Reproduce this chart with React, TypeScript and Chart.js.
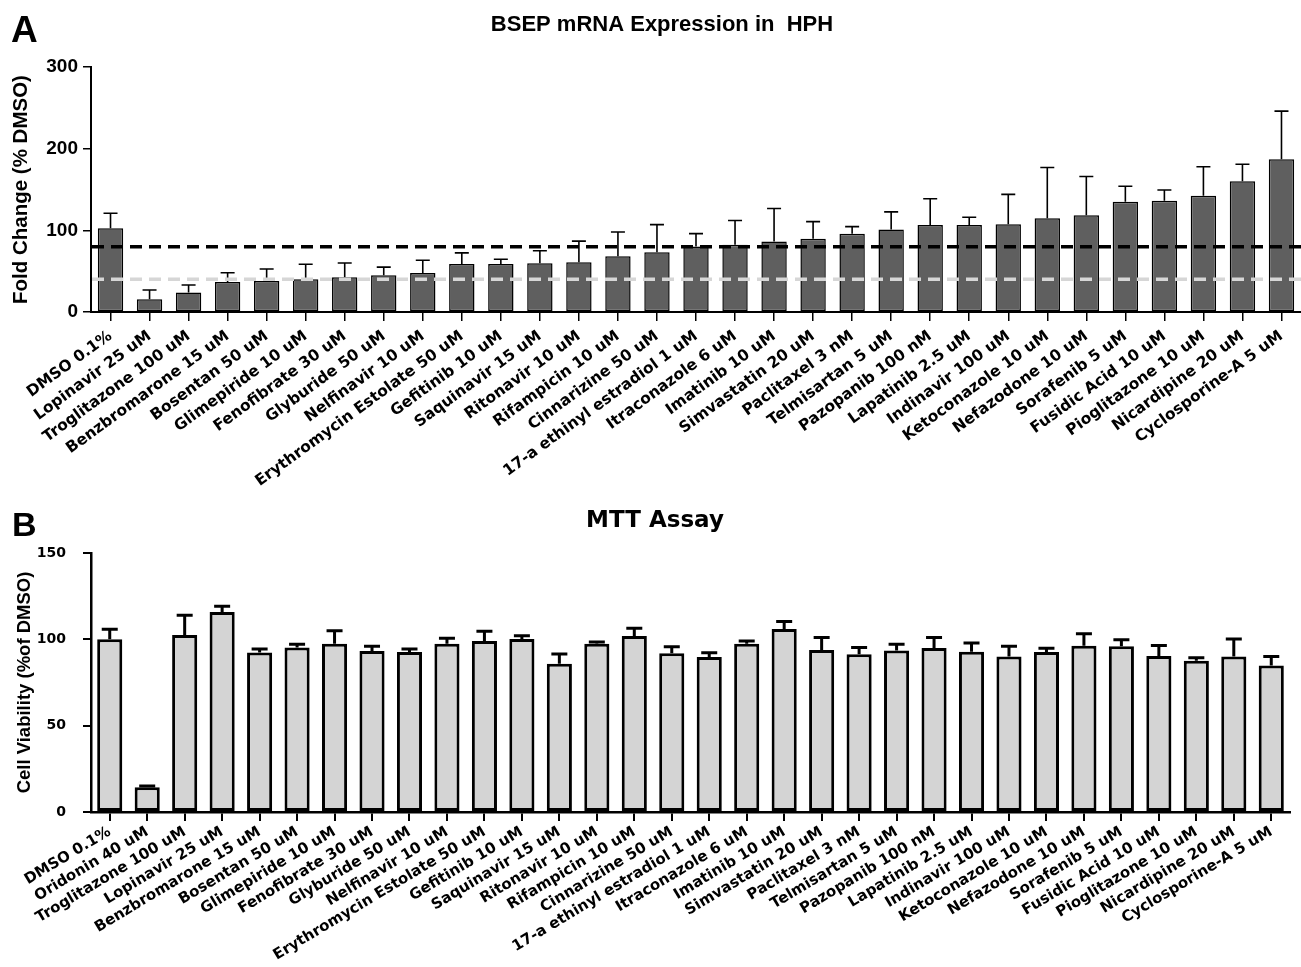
import React, { useEffect, useRef } from "react";
import { Chart, registerables } from "chart.js";

Chart.register(...registerables);

// ---------- Panel A data ----------
const categoriesA = [
  "DMSO 0.1%", "Lopinavir 25 uM", "Troglitazone 100 uM", "Benzbromarone 15 uM", "Bosentan 50 uM",
  "Glimepiride 10 uM", "Fenofibrate 30 uM", "Glyburide 50 uM", "Nelfinavir 10 uM", "Erythromycin Estolate 50 uM",
  "Gefitinib 10 uM", "Saquinavir 15 uM", "Ritonavir 10 uM", "Rifampicin 10 uM", "Cinnarizine 50 uM",
  "17-a ethinyl estradiol 1 uM", "Itraconazole 6 uM", "Imatinib 10 uM", "Simvastatin 20 uM", "Paclitaxel 3 nM",
  "Telmisartan 5 uM", "Pazopanib 100 nM", "Lapatinib 2.5 uM", "Indinavir 100 uM", "Ketoconazole 10 uM",
  "Nefazodone 10 uM", "Sorafenib 5 uM", "Fusidic Acid 10 uM", "Pioglitazone 10 uM", "Nicardipine 20 uM",
  "Cyclosporine-A 5 uM",
];
const foldChange = [
  102.5, 15.6, 24, 36.6, 38, 40, 42.4, 45, 47.7, 58.8,
  58.8, 59.7, 61, 68.3, 73.3, 80.2, 82.3, 86.4, 89.7, 95.9,
  101, 106.6, 106.6, 107.4, 114.8, 118.5, 135, 136.2, 142.4, 160,
  187,
];
const foldChangeSem = [
  18.5, 11.4, 9, 11.4, 14.7, 18.4, 17.6, 10, 15.7, 13.6,
  5.8, 15.3, 25.8, 29.7, 33.7, 15.8, 29.7, 40.3, 21, 8.6,
  21.6, 32.1, 9.4, 36.6, 62.2, 47.5, 19, 13.2, 35.4, 21,
  59,
];
const thresholdsA = [80, 40];
const thresholdColorsA = ["#000000", "#d6d6d6"];
const yRangeA = [0, 300];
const yStepA = 100;

// ---------- Panel B data ----------
const categoriesB = [
  "DMSO 0.1%", "Oridonin 40 uM", "Troglitazone 100 uM", "Lopinavir 25 uM", "Benzbromarone 15 uM",
  "Bosentan 50 uM", "Glimepiride 10 uM", "Fenofibrate 30 uM", "Glyburide 50 uM", "Nelfinavir 10 uM",
  "Erythromycin Estolate 50 uM", "Gefitinib 10 uM", "Saquinavir 15 uM", "Ritonavir 10 uM", "Rifampicin 10 uM",
  "Cinnarizine 50 uM", "17-a ethinyl estradiol 1 uM", "Itraconazole 6 uM", "Imatinib 10 uM", "Simvastatin 20 uM",
  "Paclitaxel 3 nM", "Telmisartan 5 uM", "Pazopanib 100 nM", "Lapatinib 2.5 uM", "Indinavir 100 uM",
  "Ketoconazole 10 uM", "Nefazodone 10 uM", "Sorafenib 5 uM", "Fusidic Acid 10 uM", "Pioglitazone 10 uM",
  "Nicardipine 20 uM", "Cyclosporine-A 5 uM",
];
const viability = [
  100, 14.3, 102.5, 115.9, 92.4, 95.2, 97.5, 93.2, 92.6, 97.5,
  99, 100.2, 85.9, 97.5, 102, 92, 89.7, 97.5, 106, 93.8,
  91.3, 93.6, 95, 92.8, 90.1, 92.6, 96.3, 96, 90.3, 87.6,
  90, 84.9,
];
const viabilitySem = [
  5.8, 0.8, 11.5, 3.3, 2, 1.9, 7.5, 2.8, 1.8, 3.1,
  5.7, 1.9, 5.6, 0.9, 4.4, 3.7, 2.5, 1.5, 4.3, 7.2,
  4, 3.5, 6, 5.1, 5.9, 2.2, 7, 3.8, 6.2, 1.7,
  10.2, 5.2,
];
const yRangeB = [0, 150];
const yStepB = 50;

const SANS = "'Liberation Sans', Arial, sans-serif";
const NARROW = "'Liberation Sans Narrow', 'Liberation Sans', Arial, sans-serif";
const WIDE = "'DejaVu Sans', sans-serif";

function errorBars(errs: number[], lineWidth: number, capWidth: number) {
  return {
    id: "errorBars",
    afterDatasetsDraw(chart: any) {
      const { ctx } = chart;
      const meta = chart.getDatasetMeta(0);
      const y = chart.scales.y;
      const vals = chart.data.datasets[0].data as number[];
      ctx.save();
      ctx.strokeStyle = "#000";
      ctx.lineWidth = lineWidth;
      meta.data.forEach((bar: any, i: number) => {
        const base = y.getPixelForValue(vals[i]);
        const top = y.getPixelForValue(vals[i] + errs[i]);
        ctx.beginPath();
        ctx.moveTo(bar.x, base);
        ctx.lineTo(bar.x, top);
        ctx.moveTo(bar.x - capWidth / 2, top);
        ctx.lineTo(bar.x + capWidth / 2, top);
        ctx.stroke();
      });
      ctx.restore();
    },
  };
}

function thresholdLines(values: number[], colors: string[]) {
  return {
    id: "thresholds",
    afterDatasetsDraw(chart: any) {
      const { ctx, chartArea } = chart;
      const y = chart.scales.y;
      ctx.save();
      ctx.lineWidth = 3.5;
      ctx.setLineDash([12, 7]);
      values.forEach((v, i) => {
        const py = y.getPixelForValue(v);
        ctx.strokeStyle = colors[i];
        ctx.beginPath();
        ctx.moveTo(chartArea.left + 1, py);
        ctx.lineTo(chartArea.right, py);
        ctx.stroke();
      });
      ctx.restore();
    },
  };
}

type TextItem = { text: string; x: number; y: number; font: string; align?: CanvasTextAlign };
function panelText(items: TextItem[]) {
  return {
    id: "panelText",
    afterDraw(chart: any) {
      const { ctx } = chart;
      ctx.save();
      ctx.fillStyle = "#000";
      ctx.textBaseline = "alphabetic";
      items.forEach((it) => {
        ctx.font = it.font;
        ctx.textAlign = it.align || "left";
        ctx.fillText(it.text, it.x, it.y);
      });
      ctx.restore();
    },
  };
}

function makeConfig(opts: any) {
  return {
    type: "bar" as const,
    data: {
      labels: opts.labels,
      datasets: [
        {
          data: opts.values,
          backgroundColor: opts.fill,
          borderColor: "#000",
          borderWidth: opts.borderWidth,
          borderSkipped: false,
          barPercentage: opts.barPct,
          categoryPercentage: 1,
        },
      ],
    },
    options: {
      responsive: false,
      maintainAspectRatio: false,
      animation: false,
      devicePixelRatio: 1,
      layout: { padding: { left: 0, top: opts.padTop, right: opts.padRight, bottom: 0 } },
      plugins: { legend: { display: false }, tooltip: { enabled: false }, title: { display: false } },
      scales: {
        x: {
          offset: true,
          grid: {
            offset: false,
            drawOnChartArea: false,
            drawTicks: true,
            tickLength: 9,
            color: "#000",
            lineWidth: opts.tickWidth,
          },
          border: { display: true, color: "#000", width: opts.axisWidth },
          ticks: {
            autoSkip: false,
            minRotation: opts.rotation,
            maxRotation: opts.rotation,
            padding: opts.xTickPad,
            color: "#000",
            font: { family: WIDE, size: opts.xFontSize, weight: "bold" },
          },
          afterFit(scale: any) {
            scale.height = opts.xAxisHeight;
          },
        },
        y: {
          min: opts.yRange[0],
          max: opts.yRange[1],
          grid: {
            drawOnChartArea: false,
            drawTicks: true,
            tickLength: 8,
            color: "#000",
            lineWidth: opts.tickWidth,
          },
          border: { display: true, color: "#000", width: opts.axisWidth },
          ticks: {
            stepSize: opts.yStep,
            padding: opts.yTickPad,
            color: "#000",
            font: opts.yTickFont,
          },
          title: {
            display: true,
            text: opts.yTitle,
            color: "#000",
            font: opts.yTitleFont,
            padding: { top: opts.yTitlePad, bottom: 0 },
          },
          afterFit(scale: any) {
            scale.width = opts.yAxisWidth;
          },
        },
      },
    },
    plugins: [errorBars(opts.errs, opts.errLine, opts.capWidth), ...opts.extraPlugins],
  };
}

function ChartCanvas({ config, width, height, top }: { config: any; width: number; height: number; top: number }) {
  const ref = useRef<HTMLCanvasElement | null>(null);
  useEffect(() => {
    if (!ref.current) return;
    const chart = new Chart(ref.current, config);
    return () => chart.destroy();
  }, [config]);
  return (
    <canvas
      ref={ref}
      width={width}
      height={height}
      style={{ position: "absolute", left: 0, top, width, height, display: "block" }}
    />
  );
}

const configA = makeConfig({
  labels: categoriesA,
  values: foldChange,
  errs: foldChangeSem,
  fill: "#5f5f5f",
  borderWidth: 1.5,
  barPct: 0.65,
  yRange: yRangeA,
  yStep: yStepA,
  yTitle: "Fold Change (% DMSO)",
  yTitleFont: { family: SANS, size: 20.5, weight: "bold" },
  yTitlePad: 9,
  yTickFont: { family: NARROW, size: 19, weight: "bold" },
  yTickPad: 5,
  axisWidth: 2,
  tickWidth: 1.5,
  rotation: 36,
  xFontSize: 15.5,
  xTickPad: 6,
  yAxisWidth: 91,
  xAxisHeight: 490 - 312,
  padTop: 67,
  padRight: 0,
  errLine: 1.6,
  capWidth: 14,
  extraPlugins: [
    thresholdLines(thresholdsA, thresholdColorsA),
    panelText([
      { text: "A", x: 11, y: 42, font: `bold 37px ${SANS}` },
      { text: "BSEP mRNA Expression in  HPH", x: 662, y: 31, font: `bold 22px ${SANS}`, align: "center" },
    ]),
  ],
});

const configB = makeConfig({
  labels: categoriesB,
  values: viability,
  errs: viabilitySem,
  fill: "#d4d4d4",
  borderWidth: 3,
  barPct: 0.67,
  yRange: yRangeB,
  yStep: yStepB,
  yTitle: "Cell Viability (%of DMSO)",
  yTitleFont: { family: SANS, size: 18.5, weight: "bold" },
  yTitlePad: 14,
  yTickFont: { family: WIDE, size: 14, weight: "bold" },
  yTickPad: 17,
  axisWidth: 2.5,
  tickWidth: 2,
  rotation: 31,
  xFontSize: 15,
  xTickPad: 2,
  yAxisWidth: 91,
  xAxisHeight: 477 - 322,
  padTop: 63,
  padRight: 11,
  errLine: 3,
  capWidth: 16,
  extraPlugins: [
    panelText([
      { text: "B", x: 12, y: 46, font: `bold 34px ${SANS}` },
      { text: "MTT Assay", x: 655, y: 37, font: `bold 23px ${WIDE}`, align: "center" },
    ]),
  ],
});

export default function App() {
  useEffect(() => {
    document.body.style.margin = "0";
    document.body.style.background = "#fff";
  }, []);
  return (
    <div style={{ position: "relative", width: 1301, height: 967, background: "#fff" }}>
      <ChartCanvas config={configA} width={1301} height={490} top={0} />
      <ChartCanvas config={configB} width={1301} height={477} top={490} />
    </div>
  );
}
